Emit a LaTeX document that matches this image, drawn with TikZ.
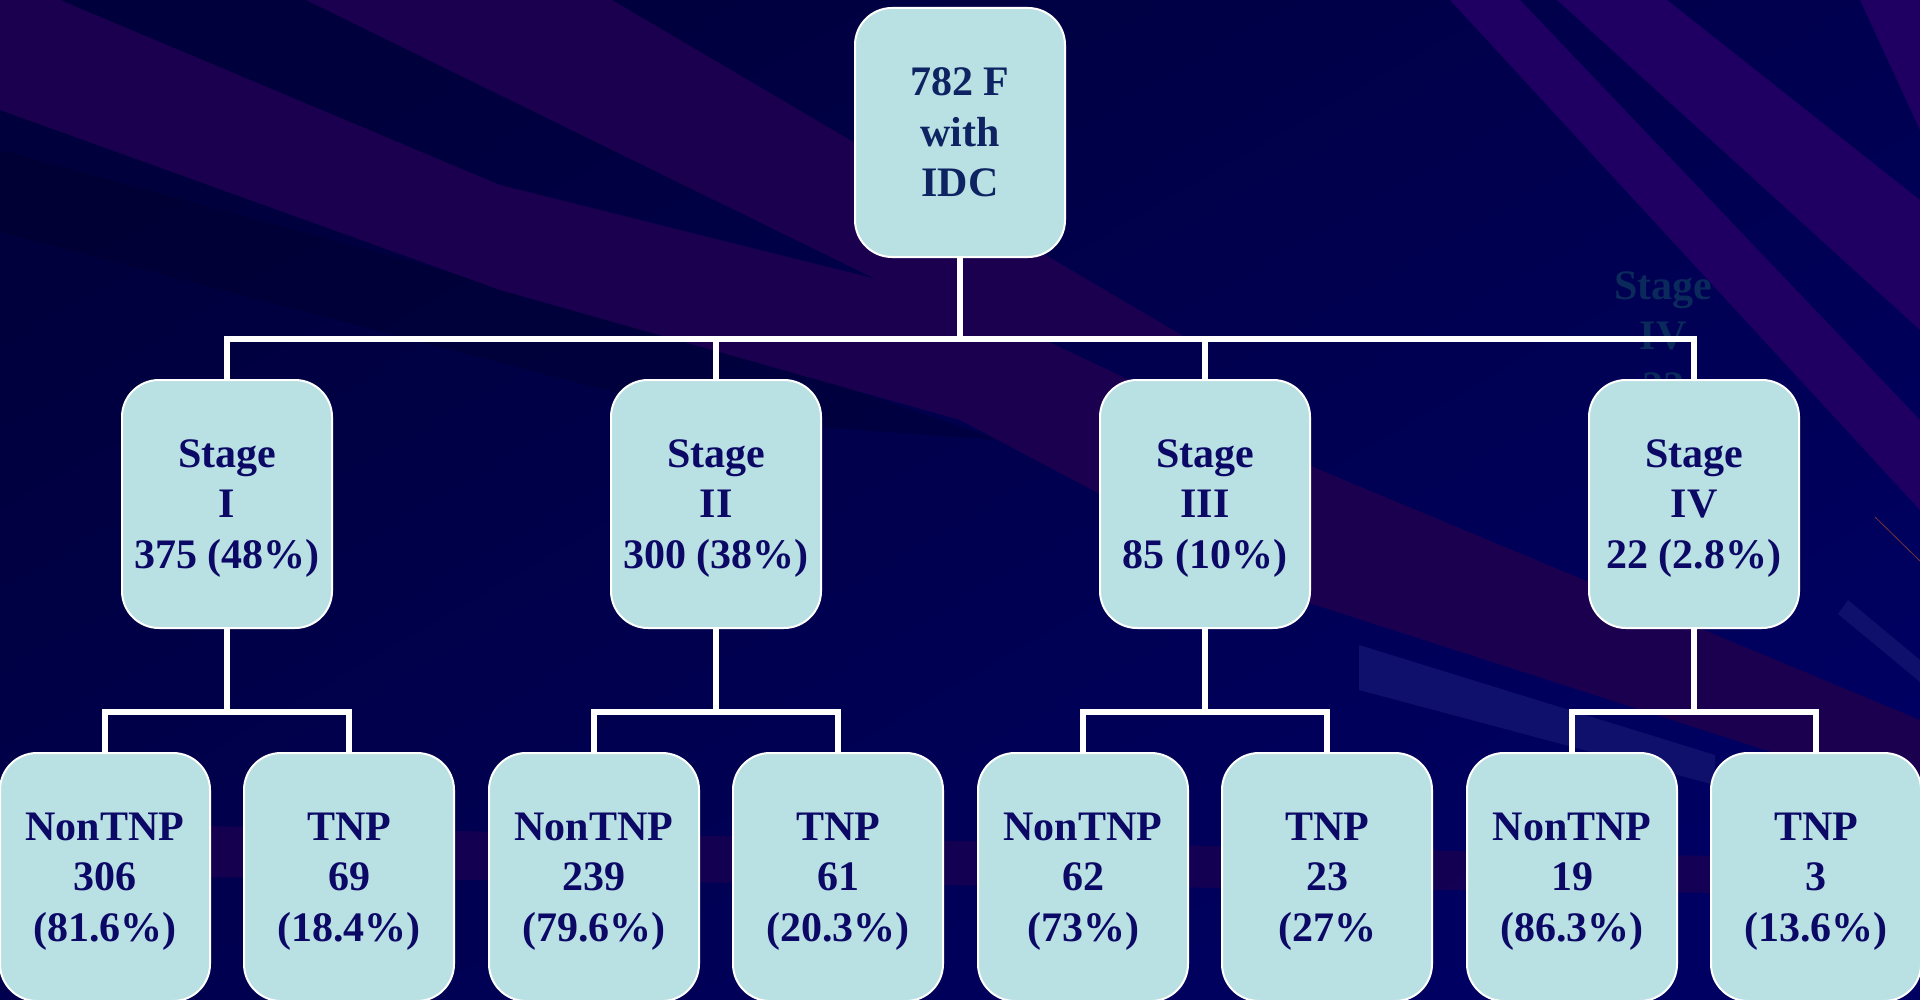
\documentclass[tikz,border=0pt]{standalone}
\usepackage{fontspec}
\setmainfont{Liberation Serif}
\definecolor{bgnavy}{HTML}{000062}
\definecolor{bgdark}{HTML}{00003C}
\definecolor{purp}{HTML}{1B0050}
\definecolor{purpR}{HTML}{1F0062}
\definecolor{blackish}{HTML}{00002A}
\definecolor{glow}{HTML}{0E106C}
\definecolor{boxfill}{RGB}{185,224,227}
\definecolor{txttop}{RGB}{14,36,98}
\definecolor{txt}{RGB}{12,8,102}
\definecolor{ghost}{HTML}{0A2A5C}
\tikzset{
  chartbox/.style={draw=white, line width=1pt, fill=boxfill, rounded corners=18.5pt,
    minimum width=105pt, minimum height=124pt, inner sep=0pt, align=center,
    text depth=-5pt,
    font=\fontsize{21}{25.25}\selectfont\bfseries, text=txt},
  conn/.style={draw=white, line width=2.6pt},
  ghosttext/.style={align=center, inner sep=0pt,
    font=\fontsize{21}{25.25}\selectfont\bfseries, text=ghost}
}
\begin{document}
\begin{tikzpicture}[x=0.5pt,y=-0.5pt]
\useasboundingbox (0,0) rectangle (1920,1000);
\begin{scope}
  \clip (0,0) rectangle (1920,1000);
  % background
  \shade[top color=bgdark, bottom color=bgnavy, shading angle=30] (0,0) rectangle (1920,1000);
  % dark streak
  \fill[blackish, opacity=0.35] (0,150) -- (720,345) -- (1000,440) -- (720,420) -- (0,232) -- cycle;
  % purple streaks, left and middle
  \fill[purp] (0,0) -- (60,0) -- (500,185) -- (960,300) -- (1320,470) -- (1920,720)
     -- (1920,800) -- (1300,600) -- (960,420) -- (500,290) -- (0,110) -- cycle;
  \fill[purp] (306,0) -- (612,0) -- (1190,340) -- (1000,340) -- cycle;
  % purple streaks, right
  \fill[purpR] (1450,0) -- (1520,0) -- (1920,420) -- (1920,510) -- cycle;
  \fill[purpR] (1557,0) -- (1667,0) -- (1920,200) -- (1920,330) -- cycle;
  \fill[purpR] (1860,0) -- (1920,0) -- (1920,130) -- cycle;
  % faint horizontal band near bottom
  \fill[purp, opacity=0.75] (0,822) -- (1920,860) -- (1920,895) -- (0,875) -- cycle;
  % light glow streaks
  \fill[glow] (1359,645) -- (1715,755) -- (1715,785) -- (1359,690) -- cycle;
  \fill[glow] (1848,600) -- (1920,660) -- (1920,682) -- (1838,614) -- cycle;
  \draw[color=purpR!60!orange, line width=0.4pt] (1875,517) -- (1920,561);
\end{scope}

% ghost text
\node[ghosttext] (ghost) at (1663,336) {Stage\\IV\\22};

% nodes
\node[chartbox, text=txttop, minimum height=124.5pt] (top) at (960,132.5) {782 F\\with\\IDC};

\node[chartbox] (s1) at (227,504) {Stage\\I\\375 (48\%)};
\node[chartbox] (s2) at (716,504) {Stage\\II\\300 (38\%)};
\node[chartbox] (s3) at (1205,504) {Stage\\III\\85 (10\%)};
\node[chartbox] (s4) at (1694,504) {Stage\\IV\\22 (2.8\%)};

\node[chartbox] (l1a) at (105,877) {NonTNP\\306\\(81.6\%)};
\node[chartbox] (l1b) at (349,877) {TNP\\69\\(18.4\%)};
\node[chartbox] (l2a) at (594,877) {NonTNP\\239\\(79.6\%)};
\node[chartbox] (l2b) at (838,877) {TNP\\61\\(20.3\%)};
\node[chartbox] (l3a) at (1083,877) {NonTNP\\62\\(73\%)};
\node[chartbox] (l3b) at (1327,877) {TNP\\23\\(27\%};
\node[chartbox] (l4a) at (1572,877) {NonTNP\\19\\(86.3\%)};
\node[chartbox] (l4b) at (1816,877) {TNP\\3\\(13.6\%)};

% connectors
\coordinate (j0) at (960,339);
\coordinate (j1) at (227,712);
\coordinate (j2) at (716,712);
\coordinate (j3) at (1205,712);
\coordinate (j4) at (1694,712);
\draw[conn] (top.south) -- (j0);
\draw[conn] (j0) -| (s1.north);
\draw[conn] (j0) -| (s2.north);
\draw[conn] (j0) -| (s3.north);
\draw[conn] (j0) -| (s4.north);
\draw[conn] (s1.south) -- (j1);
\draw[conn] (j1) -| (l1a.north);
\draw[conn] (j1) -| (l1b.north);
\draw[conn] (s2.south) -- (j2);
\draw[conn] (j2) -| (l2a.north);
\draw[conn] (j2) -| (l2b.north);
\draw[conn] (s3.south) -- (j3);
\draw[conn] (j3) -| (l3a.north);
\draw[conn] (j3) -| (l3b.north);
\draw[conn] (s4.south) -- (j4);
\draw[conn] (j4) -| (l4a.north);
\draw[conn] (j4) -| (l4b.north);
\end{tikzpicture}
\end{document}
